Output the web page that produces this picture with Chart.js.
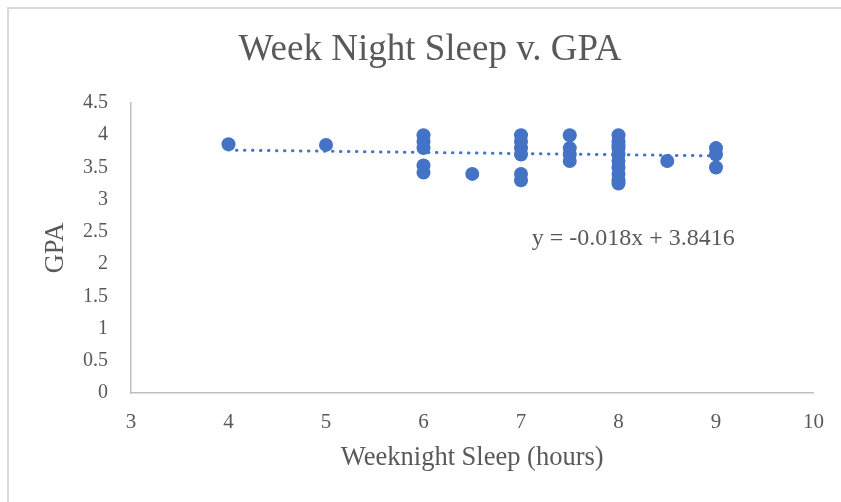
<!DOCTYPE html>
<html>
<head>
<meta charset="utf-8">
<script src="https://cdn.jsdelivr.net/npm/chart.js@4"></script>
<style>
  html, body { margin: 0; padding: 0; background: #fff; }
  #wrap { position: relative; width: 841px; height: 502px; }
</style>
</head>
<body>
<div id="wrap"><canvas id="chart" width="841" height="502"></canvas></div>
<script>
// Week night sleep (hours) vs GPA, with linear trendline.
const sleepHours = [4, 5, 6, 6, 6, 6, 6, 6.5, 7, 7, 7, 7, 7, 7, 7.5, 7.5, 7.5, 7.5,
                    8, 8, 8, 8, 8, 8, 8, 8, 8, 8, 8.5, 9, 9, 9];
const gpaValues  = [3.86, 3.85, 4.0, 3.9, 3.8, 3.53, 3.42, 3.4, 4.0, 3.9, 3.8, 3.7, 3.4, 3.3, 4.0, 3.8, 3.7, 3.6,
                    4.0, 3.9, 3.85, 3.8, 3.7, 3.6, 3.5, 3.4, 3.3, 3.25, 3.6, 3.8, 3.7, 3.5];

const trendSlope     = -0.018;
const trendIntercept = 3.8416;
const trendLabel     = "y = -0.018x + 3.8416";
const chartTitle     = "Week Night Sleep v. GPA";

const xTicks = [3, 4, 5, 6, 7, 8, 9, 10];
const yTicks = [0, 0.5, 1, 1.5, 2, 2.5, 3, 3.5, 4, 4.5];

const BLUE  = "#4472C4";
const TEXT  = "#595959";
const AXIS  = "#bfbfbf";
const SERIF = "'Liberation Serif', 'Times New Roman', serif";

const xMinData = Math.min(...sleepHours);
const xMaxData = Math.max(...sleepHours);
const trendPts = [xMinData, xMaxData].map((x) => ({ x, y: trendSlope * x + trendIntercept }));

// outer frame, title (Excel centres it on the whole frame) + equation label
const extras = {
  id: "extras",
  afterDraw(chart) {
    const { ctx, scales } = chart;
    ctx.save();
    ctx.strokeStyle = "#d9d9d9";
    ctx.lineWidth = 2;
    ctx.strokeRect(8, 8, 900, 600);

    ctx.fillStyle = TEXT;
    ctx.textBaseline = "middle";
    ctx.font = `37px ${SERIF}`;
    ctx.textAlign = "center";
    ctx.fillText(chartTitle, 430, 50);

    ctx.font = `24px ${SERIF}`;
    ctx.textAlign = "left";
    ctx.fillText(trendLabel, scales.x.getPixelForValue(7.11), scales.y.getPixelForValue(2.4));
    ctx.restore();
  },
};

new Chart(document.getElementById("chart"), {
  type: "scatter",
  data: {
    datasets: [
      {
        label: "GPA",
        data: sleepHours.map((x, i) => ({ x, y: gpaValues[i] })),
        backgroundColor: BLUE,
        borderColor: BLUE,
        pointRadius: 7,
        pointHoverRadius: 7,
        borderWidth: 0,
      },
      {
        type: "line",
        label: "Linear",
        data: trendPts,
        borderColor: BLUE,
        borderWidth: 3,
        borderDash: [0.5, 7.5],
        borderCapStyle: "round",
        pointRadius: 0,
        fill: false,
      },
    ],
  },
  options: {
    responsive: false,
    animation: false,
    layout: { padding: { left: 8, right: 26, top: 103, bottom: 0 } },
    plugins: {
      legend: { display: false },
      tooltip: { enabled: false },
      title: { display: false },
    },
    scales: {
      x: {
        type: "linear",
        min: 3,
        max: 10,
        afterBuildTicks: (axis) => { axis.ticks = xTicks.map((v) => ({ value: v })); },
        grid: { display: false, drawTicks: false },
        border: { display: true, color: AXIS, width: 1.5 },
        ticks: { color: TEXT, font: { family: SERIF, size: 21 }, padding: 17, callback: (v) => String(v) },
        title: {
          display: true,
          text: "Weeknight Sleep (hours)",
          color: TEXT,
          font: { family: SERIF, size: 26.5 },
          padding: { top: 8, bottom: 28 },
        },
        afterFit: (axis) => { axis.height = 109; },
      },
      y: {
        min: 0,
        max: 4.5,
        afterBuildTicks: (axis) => { axis.ticks = yTicks.map((v) => ({ value: v })); },
        grid: { display: false, drawTicks: false },
        border: { display: true, color: AXIS, width: 1.5 },
        ticks: { color: TEXT, font: { family: SERIF, size: 20 }, padding: 23, callback: (v) => String(v) },
        title: {
          display: true,
          text: "GPA",
          color: TEXT,
          font: { family: SERIF, size: 26.5 },
          padding: { top: 32, bottom: 0 },
        },
        afterFit: (axis) => { axis.width = 123; },
      },
    },
  },
  plugins: [extras],
});
</script>
</body>
</html>
